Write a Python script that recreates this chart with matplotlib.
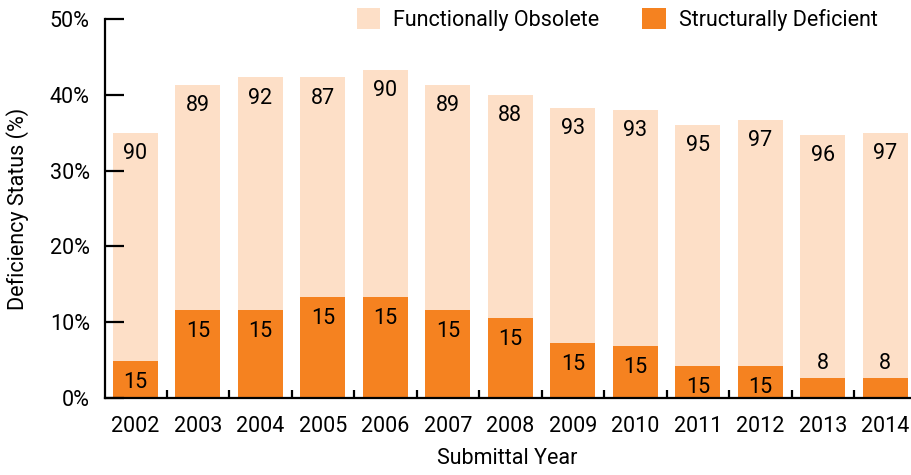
import numpy as np
import matplotlib.pyplot as plt

# Bridge deficiency share by submittal year
years = ['2002', '2003', '2004', '2005', '2006', '2007', '2008',
         '2009', '2010', '2011', '2012', '2013', '2014']
total_pct = [35.0, 41.3, 42.3, 42.3, 43.3, 41.3, 40.0, 38.3, 38.0, 36.0, 36.7, 34.7, 35.0]
structural_pct = [4.9, 11.6, 11.6, 13.3, 13.3, 11.6, 10.6, 7.3, 6.9, 4.2, 4.2, 2.6, 2.6]
functional_counts = [90, 89, 92, 87, 90, 89, 88, 93, 93, 95, 97, 96, 97]
structural_counts = [15, 15, 15, 15, 15, 15, 15, 15, 15, 15, 15, 8, 8]

light = '#FDDFC7'
orange = '#F58220'
plt.rcParams['font.family'] = ['Roboto', 'DejaVu Sans']

x = np.arange(len(years))
functional_pct = np.array(total_pct) - np.array(structural_pct)

fig = plt.figure(figsize=(9.12, 4.75), dpi=100)
ax = fig.add_axes([0.1151, 0.162, 0.883, 0.798])

width = 0.72
ax.bar(x, structural_pct, width, color=orange, label='Structurally Deficient')
ax.bar(x, functional_pct, width, bottom=structural_pct, color=light,
       label='Functionally Obsolete')

fs = 15.5
for i in range(len(years)):
    ax.annotate(str(functional_counts[i]), (x[i], total_pct[i]), xytext=(0, -15),
                textcoords='offset points', ha='center', va='center', fontsize=fs)
    if structural_pct[i] < 3:
        # short segment: put the count just above it
        ax.annotate(str(structural_counts[i]), (x[i], structural_pct[i]), xytext=(0, 10.5),
                    textcoords='offset points', ha='center', va='center', fontsize=fs)
    else:
        ax.annotate(str(structural_counts[i]), (x[i], structural_pct[i]), xytext=(0, -15.5),
                    textcoords='offset points', ha='center', va='center', fontsize=fs)

ax.set_xlim(-0.485, 12.4)
ax.set_ylim(0, 50)
ax.set_yticks(np.arange(0, 51, 10))
ax.set_yticklabels([f'{v}%' for v in range(0, 51, 10)])
ax.set_xticks(x)
ax.set_xticklabels(years)
ax.set_xticks(x[:-1] + 0.5, minor=True)

for s in ['top', 'right']:
    ax.spines[s].set_visible(False)
for s in ['left', 'bottom']:
    ax.spines[s].set_linewidth(1.6)

ax.tick_params(axis='y', direction='in', length=14, width=1.6, pad=11, labelsize=fs)
ax.tick_params(axis='x', which='major', length=0, pad=13, labelsize=fs)
ax.tick_params(axis='x', which='minor', direction='in', length=6, width=1.6)

ax.set_xlabel('Submittal Year', fontsize=fs, labelpad=8)
ax.set_ylabel('Deficiency Status (%)', fontsize=fs, labelpad=15)

handles, labels = ax.get_legend_handles_labels()
fig.legend(handles[::-1], labels[::-1], loc='upper center', bbox_to_anchor=(0.6767, 1.023),
           ncol=2, frameon=False, fontsize=fs, handlelength=1.1, handleheight=1.1,
           handletextpad=0.6, columnspacing=2.0)

fig.savefig('out.png', dpi=100)
